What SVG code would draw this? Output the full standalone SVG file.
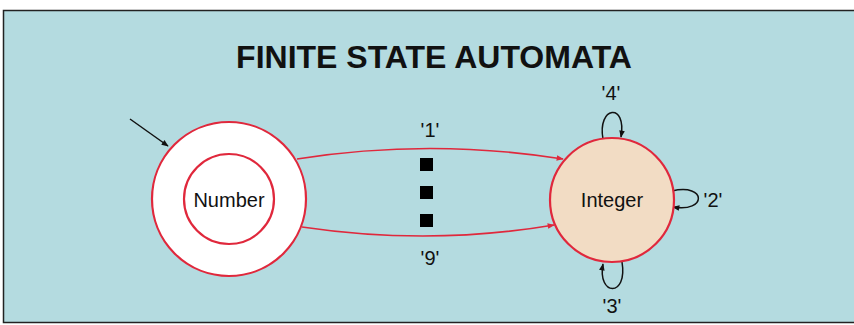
<svg xmlns="http://www.w3.org/2000/svg" width="854" height="325" viewBox="0 0 854 325">
<style>
.lbl{font-family:"Liberation Sans",Arial,sans-serif;font-size:20px;fill:#111;text-anchor:middle}
.red{fill:none;stroke:#e0283c;stroke-width:1.6}
.blk{fill:none;stroke:#111;stroke-width:1.5}
</style>
<defs>
<marker id="ar" viewBox="0 0 10 10" refX="9" refY="5" markerWidth="10" markerHeight="7" markerUnits="userSpaceOnUse" orient="auto"><path d="M0,1 L10,5 L0,9 Z" fill="#e0283c"/></marker>
<marker id="ab" viewBox="0 0 10 10" refX="9" refY="5" markerWidth="9" markerHeight="7" markerUnits="userSpaceOnUse" orient="auto"><path d="M0,1 L10,5 L0,9 Z" fill="#111"/></marker>
</defs>
<rect x="0" y="0" width="854" height="325" fill="#ffffff"/>
<rect x="3.5" y="10.5" width="852" height="312" fill="#b4dbe0" stroke="#222" stroke-width="1.5"/>
<text x="434" y="68" font-family="'Liberation Sans',Arial,sans-serif" font-size="32" font-weight="bold" fill="#111" text-anchor="middle">FINITE STATE AUTOMATA</text>
<g id="connectors">
<line x1="130" y1="119" x2="168" y2="146" class="blk" marker-end="url(#ab)"/>
<path d="M297,159 Q430,138 563,159" class="red" marker-end="url(#ar)"/>
<path d="M302,227 Q430,246 554,225" class="red" marker-end="url(#ar)"/>
<path d="M603,139 C597,106 627,102 621,137" class="blk" marker-end="url(#ab)"/>
<path d="M672,191 C707,183 707,213 673,207" class="blk" marker-end="url(#ab)"/>
<path d="M622,262 C628,298 597,296 603,264" class="blk" marker-end="url(#ab)"/>
<rect x="420" y="158" width="13" height="13" fill="#000"/>
<rect x="420" y="186" width="13" height="13" fill="#000"/>
<rect x="420" y="214" width="13" height="13" fill="#000"/>
<text x="430" y="137" class="lbl">'1'</text>
<text x="430" y="265" class="lbl">'9'</text>
<text x="611" y="100" class="lbl">'4'</text>
<text x="713" y="207" class="lbl">'2'</text>
<text x="612" y="313" class="lbl">'3'</text>
</g>
<g id="number">
<circle cx="229" cy="199" r="77" fill="#fff" stroke="#e0283c" stroke-width="2.2"/>
<circle cx="229" cy="199" r="45" fill="#fff" stroke="#e0283c" stroke-width="2.2"/>
<text x="229" y="207" class="lbl">Number</text>
</g>
<g id="integer">
<circle cx="612" cy="200" r="62" fill="#f2dcc4" stroke="#e0283c" stroke-width="2.2"/>
<text x="612" y="207" class="lbl">Integer</text>
</g>
</svg>
